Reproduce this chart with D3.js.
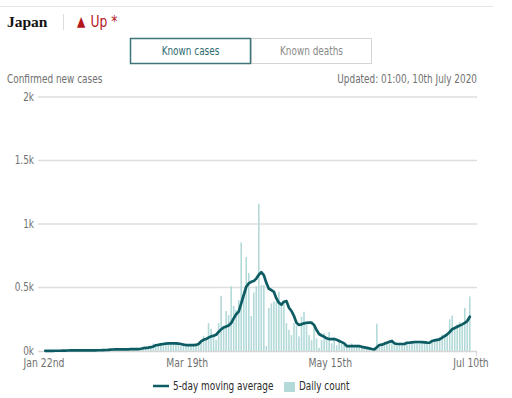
<!DOCTYPE html>
<html>
<head>
<meta charset="utf-8">
<script src="https://cdn.jsdelivr.net/npm/d3@7"></script>
<style>
  body { margin: 0; background: #fff; }
  svg { display: block; }
  text { font-family: "DejaVu Sans Condensed", "DejaVu Sans", sans-serif; }
</style>
</head>
<body>
<div id="chart"></div>
<script>
// Daily confirmed cases, Japan, from 22 Jan 2020 (one value per day)
const startDate = "2020-01-22";
const endDate = "2020-07-10";
const dailyCount = [
  2, 0, 0, 0, 2, 0, 3, 1, 4, 4,
  5, 2, 3, 4, 6, 5, 7, 5, 4, 6, 5, 8, 7, 10, 12, 14,
  16, 8, 18, 12, 10, 15, 11, 14, 13, 12, 20, 18, 15,
  20, 25, 28, 35, 60, 45, 50, 55, 65, 45,
  70, 50, 58, 60, 62, 40, 45, 45, 55, 50, 40, 45, 60,
  70, 120, 100, 220, 175, 113, 90, 220, 435, 200,
  315, 283, 510, 355, 323, 400, 855, 440, 740, 615,
  275, 460, 510, 1160, 520, 520, 40, 340, 375, 390,
  390, 465, 375, 390, 220, 165, 125, 220, 200, 115,
  270, 310, 205, 125, 85, 190, 100, 25, 85, 140,
  100, 150, 60, 110, 45, 95, 55, 70, 30, 35,
  60, 25, 50, 40, 30, 25, 35, 15, 10, 30,
  215, 40, 45, 50, 70, 55, 75, 45, 40, 55,
  50, 60, 65, 60, 70, 55, 75, 70, 65, 80,
  60, 70, 85, 90, 100, 110, 130, 110, 140, 250,
  280, 190, 210, 230, 200, 340, 250, 430
];
// 5-day moving average as drawn
const movingAverage = [
  1, 1, 1, 1, 2, 2, 2, 3, 3, 4,
  5, 5, 5, 5, 5, 5, 5, 5, 5, 5, 5, 6, 6, 7, 8, 9,
  11, 12, 13, 13, 13, 13, 13, 13, 14, 14, 15, 15, 18,
  22, 25, 27, 30, 36, 45, 48, 52, 55, 58,
  60, 60, 60, 60, 58, 55, 50, 47, 47, 47, 47, 48, 55,
  75, 88, 95, 105, 115, 120, 128, 150, 170, 185,
  192, 200, 220, 257, 289, 310, 375, 441, 506, 532,
  545, 551, 570, 600, 620, 598, 537, 490, 480, 466,
  414, 380, 365, 388, 393, 341, 315, 276, 223, 205,
  210, 218, 222, 223, 223, 205, 165, 134, 122, 113,
  100, 94, 94, 94, 88, 79, 70, 60, 39, 39,
  39, 39, 39, 38, 33, 29, 25, 21, 16, 12,
  29, 47, 50, 58, 65, 72, 79, 60, 55, 55,
  55, 55, 65, 66, 68, 70, 71, 71, 70, 68,
  66, 65, 79, 84, 88, 92, 105, 118, 131, 150,
  171, 181, 191, 200, 210, 222, 236, 270
];
const yTicks = [0, 500, 1000, 1500, 2000];
const yTickLabels = ["0k", "0.5k", "1k", "1.5k", "2k"];
const xTickDates = ["2020-01-22", "2020-03-19", "2020-05-15", "2020-07-10"];
const xTickLabels = ["Jan 22nd", "Mar 19th", "May 15th", "Jul 10th"];
const tabs = ["Known cases", "Known deaths"];
const legendItems = ["5-day moving average", "Daily count"];

const width = 512;
const height = 398;
const margin = { top: 97, right: 35, bottom: 47, left: 38 };
const lineColor = "#0e5c63";
const barColor = "#b3dad9";
const squeezeK = 0.86; // condensed look

const parse = d3.timeParse("%Y-%m-%d");
const day0 = parse(startDate);
const dates = dailyCount.map((_, i) => d3.timeDay.offset(day0, i));
const data = dates.map((d, i) => ({ date: d, count: dailyCount[i], avg: movingAverage[i] }));

// place a text at (x, y) and squeeze it horizontally
function squeezed(sel, x, y) {
  return sel.attr("transform", (d, i) =>
    `translate(${typeof x === "function" ? x(d, i) : x},${typeof y === "function" ? y(d, i) : y}) scale(${squeezeK},1)`);
}

const svg = d3.select("#chart").append("svg")
  .attr("width", width)
  .attr("height", height);

// header
svg.append("line")
  .attr("x1", 0).attr("x2", 493).attr("y1", 6.5).attr("y2", 6.5)
  .attr("stroke", "#e6e6e6");

svg.append("text")
  .attr("x", 7).attr("y", 27)
  .style("font-family", "'Liberation Serif', 'DejaVu Serif', serif")
  .style("font-weight", "bold")
  .style("font-size", "15.5px")
  .attr("fill", "#121212")
  .text("Japan");

svg.append("line")
  .attr("x1", 63.5).attr("x2", 63.5).attr("y1", 14).attr("y2", 30)
  .attr("stroke", "#dcdcdc");

const up = svg.append("text")
  .attr("fill", "#b5161c")
  .style("font-size", "16px")
  .call(squeezed, 77, 27);
up.append("tspan").style("font-size", "14px").attr("dy", -1.5).text("▲");
up.append("tspan").attr("dx", 6).attr("dy", 1.5).text("Up *");

// tabs
const tabX = d3.scaleBand().domain(tabs).range([130, 372]);
const tab = svg.selectAll("g.tab").data(tabs).enter().append("g")
  .attr("class", "tab")
  .attr("transform", d => `translate(${tabX(d)},38)`);
tab.append("rect")
  .attr("x", 0.5).attr("y", 0.5)
  .attr("width", tabX.bandwidth() - 1).attr("height", 25)
  .attr("fill", "#fff")
  .attr("stroke", (d, i) => i === 0 ? "#3f7479" : "#d4d4d4")
  .attr("stroke-width", (d, i) => i === 0 ? 1.5 : 1);
tab.append("text")
  .attr("text-anchor", "middle")
  .style("font-size", "11.5px")
  .attr("fill", (d, i) => i === 0 ? "#2e6b70" : "#8a8a8a")
  .text(d => d)
  .call(squeezed, tabX.bandwidth() / 2, 17);
tab.filter((d, i) => i === 0).raise();

svg.append("text")
  .style("font-size", "11.5px")
  .attr("fill", "#707070")
  .text("Confirmed new cases")
  .call(squeezed, 7, 83);

svg.append("text")
  .attr("text-anchor", "end")
  .style("font-size", "11.5px")
  .attr("fill", "#707070")
  .text("Updated: 01:00, 10th July 2020")
  .call(squeezed, 477, 83);

// scales
const x = d3.scaleTime()
  .domain([day0, parse(endDate)])
  .range([44, 471]);
const y = d3.scaleLinear()
  .domain([0, 2000])
  .range([351, 97]);

// gridlines
svg.append("g").selectAll("line")
  .data(yTicks.slice(1))
  .enter().append("line")
  .attr("x1", margin.left).attr("x2", width - margin.right)
  .attr("y1", d => y(d)).attr("y2", d => y(d))
  .attr("stroke", "#dedede")
  .attr("stroke-width", 1.5);

svg.append("g").selectAll("text")
  .data(yTicks)
  .enter().append("text")
  .attr("text-anchor", "end")
  .style("font-size", "11.5px")
  .attr("fill", "#707070")
  .text((d, i) => yTickLabels[i])
  .call(squeezed, 34, d => y(d) + 3.5);

// bars
const barW = 1.6;
svg.append("g").selectAll("rect")
  .data(data)
  .enter().append("rect")
  .attr("x", d => x(d.date) + 0.5)
  .attr("y", d => y(d.count))
  .attr("width", barW)
  .attr("height", d => y(0) - y(d.count))
  .attr("fill", barColor);

// baseline axis
svg.append("line")
  .attr("x1", margin.left).attr("x2", width - margin.right)
  .attr("y1", y(0) + 0.5).attr("y2", y(0) + 0.5)
  .attr("stroke", "#d6d6d6")
  .attr("stroke-width", 1.5);
svg.append("line")
  .attr("x1", width - margin.right - 0.5).attr("x2", width - margin.right - 0.5)
  .attr("y1", y(0)).attr("y2", y(0) + 5)
  .attr("stroke", "#d6d6d6");

// moving average line
const line = d3.line()
  .x(d => x(d.date) + 1.3)
  .y(d => y(d.avg));
svg.append("path")
  .datum(data)
  .attr("d", line)
  .attr("fill", "none")
  .attr("stroke", lineColor)
  .attr("stroke-width", 2.7)
  .attr("stroke-linejoin", "round")
  .attr("stroke-linecap", "round");

// x labels
svg.append("g").selectAll("text")
  .data(xTickDates)
  .enter().append("text")
  .attr("text-anchor", "middle")
  .style("font-size", "12px")
  .attr("fill", "#707070")
  .text((d, i) => xTickLabels[i])
  .call(squeezed, d => x(parse(d)), 367);

// legend
const legend = svg.append("g").attr("transform", "translate(0,386)");
legend.append("line")
  .attr("x1", 153).attr("x2", 169)
  .attr("stroke", lineColor).attr("stroke-width", 2.5);
legend.append("text")
  .style("font-size", "11.5px")
  .attr("fill", "#2a2a2a")
  .text(legendItems[0])
  .call(squeezed, 173, 4);
legend.append("rect")
  .attr("x", 284).attr("y", -4)
  .attr("width", 11).attr("height", 10)
  .attr("fill", barColor);
legend.append("text")
  .style("font-size", "11.5px")
  .attr("fill", "#2a2a2a")
  .text(legendItems[1])
  .call(squeezed, 299, 4);
</script>
</body>
</html>
